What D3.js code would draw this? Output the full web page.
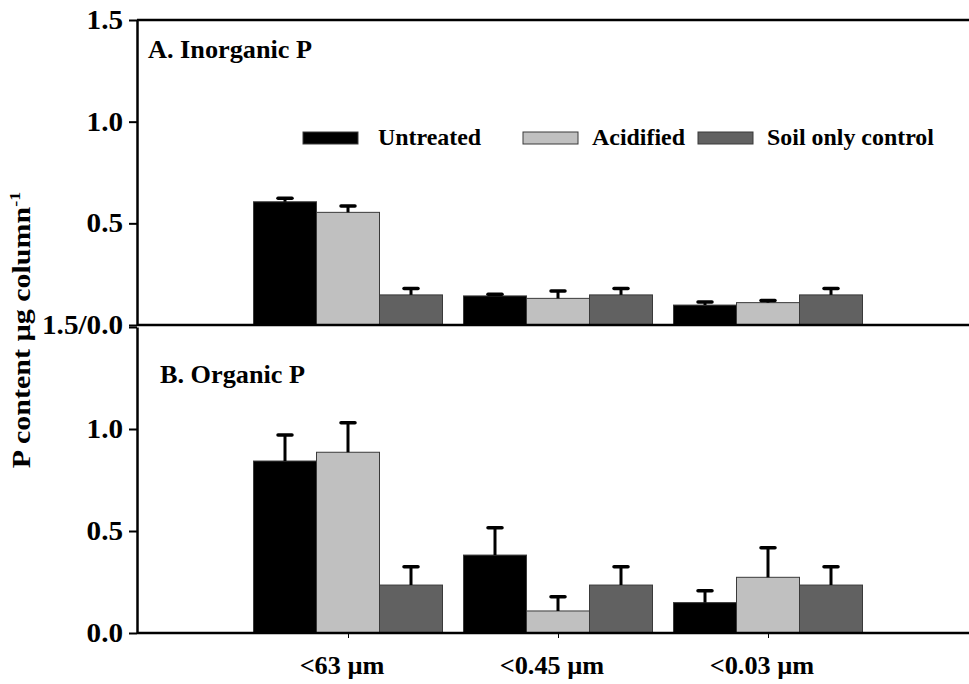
<!DOCTYPE html>
<html>
<head>
<meta charset="utf-8">
<script src="https://cdn.jsdelivr.net/npm/d3@7"></script>
<style>
body{margin:0;background:#fff}
text{font-family:"Times New Roman","Liberation Serif",Times,serif;font-weight:bold;fill:#000}
</style>
</head>
<body>
<svg id="chart"></svg>
<script>
// fractions and treatments
var fractions = ["<63 \u00b5m", "<0.45 \u00b5m", "<0.03 \u00b5m"]
var treatments = ["Untreated", "Acidified", "Soil only control"]
var colors = ["#000000", "#c0c0c0", "#616161"]

// A. Inorganic P (mean, SE) per fraction, order = treatments
var inorgMean = [[0.606, 0.554, 0.148], [0.143, 0.131, 0.148], [0.098, 0.110, 0.148]]
var inorgErr  = [[0.017, 0.031, 0.032], [0.008, 0.036, 0.032], [0.015, 0.011, 0.032]]

// B. Organic P
var orgMean = [[0.843, 0.886, 0.235], [0.382, 0.108, 0.235], [0.149, 0.273, 0.235]]
var orgErr  = [[0.128, 0.145, 0.090], [0.134, 0.070, 0.090], [0.058, 0.145, 0.090]]

var yTicks = [0, 0.5, 1.0, 1.5]

var screen = {width:969, height:684}
var left = 137

var svg = d3.select("#chart")
  .attr("width", screen.width)
  .attr("height", screen.height)

// stretched text helper (the original is a bit wide)
var stretchText = function(sel, x, y, str, size, sx, anchor, rot)
{
  var t = sel.append("text")
    .attr("transform", "translate(" + x + "," + y + ")" + (rot ? " rotate(" + rot + ")" : "") + " scale(" + sx + ",1)")
    .attr("font-size", size)
    .attr("text-anchor", anchor || "start")
    .text(str)
  return t
}

var xScale = d3.scalePoint()
  .domain(fractions)
  .range([138, 978])
  .padding(1)

var barW = 63

var drawPanel = function(means, errs, top, bottom, title, titleX, titleY, isTop)
{
  var yScale = d3.scaleLinear().domain([0, 1.5]).range([bottom, top])
  var g = svg.append("g")

  var rows = []
  means.forEach(function(m, i){
    m.forEach(function(v, j){
      rows.push({f: fractions[i], t: j, v: v, e: errs[i][j]})
    })
  })

  // bars
  g.selectAll("rect.bar")
    .data(rows)
    .enter()
    .append("rect")
    .attr("class", "bar")
    .attr("x", function(d){ return xScale(d.f) + (d.t - 1.5) * barW })
    .attr("width", barW)
    .attr("y", function(d){ return yScale(d.v) })
    .attr("height", function(d){ return yScale(0) - yScale(d.v) })
    .attr("fill", function(d){ return colors[d.t] })
    .attr("stroke", "#3a3a3a")
    .attr("stroke-width", 1)

  // error bars (upper only)
  g.selectAll("line.err")
    .data(rows)
    .enter()
    .append("line")
    .attr("x1", function(d){ return xScale(d.f) + (d.t - 1) * barW })
    .attr("x2", function(d){ return xScale(d.f) + (d.t - 1) * barW })
    .attr("y1", function(d){ return yScale(d.v) })
    .attr("y2", function(d){ return yScale(d.v + d.e) })
    .attr("stroke", "#000")
    .attr("stroke-width", 3)

  g.selectAll("line.cap")
    .data(rows)
    .enter()
    .append("line")
    .attr("x1", function(d){ return xScale(d.f) + (d.t - 1) * barW - 7 })
    .attr("x2", function(d){ return xScale(d.f) + (d.t - 1) * barW + 7 })
    .attr("y1", function(d){ return yScale(d.v + d.e) })
    .attr("y2", function(d){ return yScale(d.v + d.e) })
    .attr("stroke", "#000")
    .attr("stroke-width", 3.5)
    .attr("stroke-linecap", "round")

  // y axis
  var yAxis = d3.axisLeft(yScale)
    .tickValues(yTicks)
    .tickSize(8)
    .tickSizeOuter(0)
    .tickFormat("")
  var ax = g.append("g")
    .attr("transform", "translate(" + left + ",0)")
    .call(yAxis)
  ax.select(".domain").attr("stroke-width", 2.5)
  ax.selectAll(".tick line").attr("stroke-width", 2)

  yTicks.forEach(function(v){
    var lab = d3.format(".1f")(v)
    if (isTop && v == 0) lab = "1.5/0.0"
    if (!isTop && v == 1.5) return
    stretchText(g, left - 14, yScale(v) + 9, lab, 27, 1.08, "end")
  })

  // baseline across the whole width
  g.append("line")
    .attr("x1", left).attr("x2", screen.width)
    .attr("y1", yScale(0)).attr("y2", yScale(0))
    .attr("stroke", "#000").attr("stroke-width", 2.5)

  if (isTop) {
    g.append("line")
      .attr("x1", left).attr("x2", screen.width)
      .attr("y1", yScale(1.5)).attr("y2", yScale(1.5))
      .attr("stroke", "#000").attr("stroke-width", 2.5)
  } else {
    var xAxis = d3.axisBottom(xScale).tickSize(5).tickSizeOuter(0).tickFormat("")
    var xa = g.append("g")
      .attr("transform", "translate(0," + yScale(0) + ")")
      .call(xAxis)
    xa.select(".domain").remove()
    fractions.forEach(function(f){
      stretchText(g, xScale(f) - 6, yScale(0) + 41, f, 25, 1.05, "middle")
    })
  }

  stretchText(g, titleX, titleY, title, 25, 1.05, "start")
}

drawPanel(inorgMean, inorgErr, 20, 325, "A. Inorganic P", 148, 58, true)
drawPanel(orgMean, orgErr, 327, 633, "B. Organic P", 160, 383, false)

// legend
var legendX = [303, 523, 698]
var leg = svg.append("g")
treatments.forEach(function(t, i){
  leg.append("rect")
    .attr("x", legendX[i]).attr("y", 132)
    .attr("width", 55).attr("height", 12)
    .attr("fill", colors[i])
    .attr("stroke", "#3a3a3a").attr("stroke-width", 1)
  stretchText(leg, legendX[i] + (i == 0 ? 75 : 69), 145, t, 23, 1.04, "start")
})

// y label
var yl = stretchText(svg, 30, 330, "", 25, 1.2, "middle", -90)
yl.append("tspan").text("P content \u00b5g column")
yl.append("tspan").attr("font-size", 15).attr("dy", -10).text("-1")
</script>
</body>
</html>
